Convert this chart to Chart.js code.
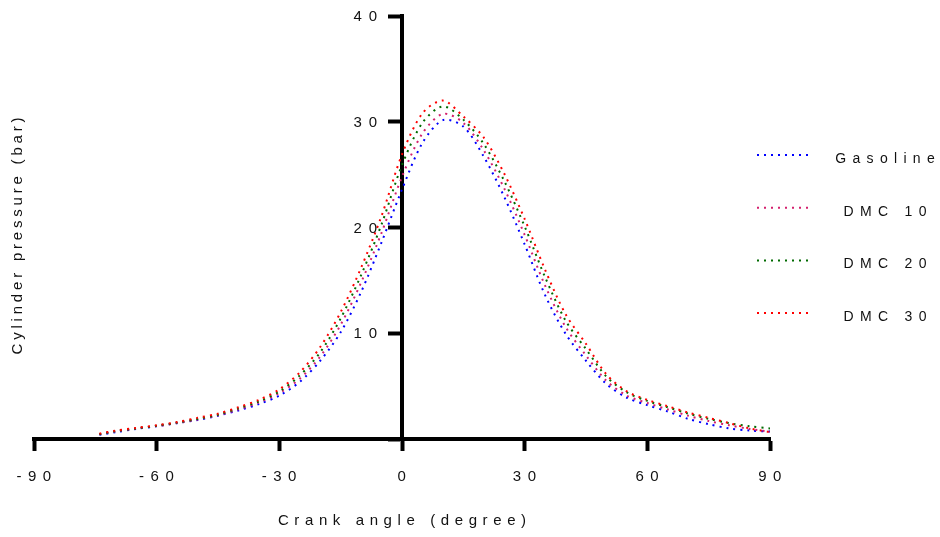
<!DOCTYPE html>
<html>
<head>
<meta charset="utf-8">
<script src="https://cdn.jsdelivr.net/npm/chart.js@4"></script>
<style>
  html, body { margin: 0; padding: 0; background: #fff; }
  #wrap { width: 940px; height: 537px; position: relative; }
</style>
</head>
<body>
<div id="wrap"><canvas id="c"></canvas></div>
<script>
// ---- data ----
const angles = [-74,-70,-65,-60,-55,-50,-45,-40,-35,-30,-25,-20,-15,-10,-5,0,5,10,15,20,25,30,35,40,45,50,55,60,65,70,75,80,85,90];
const gasoline = [0.4,0.65,0.95,1.2,1.5,1.8,2.2,2.7,3.3,4.1,5.4,7.4,10.1,13.9,18.6,23.6,28.0,30.15,29.55,26.7,22.9,18.4,13.6,9.95,7.4,5.2,3.9,3.2,2.6,1.9,1.4,1.0,0.8,0.7];
const dmc10 = [0.45,0.72,1.0,1.22,1.5,1.85,2.25,2.8,3.45,4.35,5.7,7.8,10.8,14.8,19.5,24.8,28.9,30.75,29.9,27.3,23.7,19.3,14.5,10.6,7.9,5.5,4.1,3.4,2.8,2.2,1.7,1.3,0.95,0.7];
const dmc20 = [0.45,0.75,1.0,1.25,1.55,1.9,2.3,2.9,3.55,4.5,6.0,8.2,11.4,15.5,20.3,25.9,29.9,31.45,30.2,27.9,24.4,20.1,15.3,11.2,8.5,5.9,4.4,3.6,3.0,2.4,1.9,1.5,1.2,1.0];
const dmc30 = [0.5,0.8,1.05,1.3,1.6,2.0,2.4,3.0,3.7,4.7,6.3,8.7,12.0,16.2,21.1,26.9,30.8,32.0,30.5,28.5,25.1,20.8,16.0,11.8,9.0,6.1,4.5,3.7,3.1,2.5,2.0,1.5,1.0,0.65];
const seriesNames = ['Gasoline','DMC 10','DMC 20','DMC 30'];
const seriesValues = [gasoline, dmc10, dmc20, dmc30];
const seriesColors = ['#0000ff','#d4206e','#006a00','#ff0000'];
const xTicks = [-90,-60,-30,0,30,60,90];
const yTicks = [10,20,30,40];
const xTitle = 'Crank angle (degree)';
const yTitle = 'Cylinder pressure (bar)';

const FONT = '"Liberation Sans", Arial, sans-serif';
const TEXT = '#111';

const datasets = seriesNames.map((name, i) => ({
  label: name,
  data: angles.map((a, k) => ({x: a, y: seriesValues[i][k]})),
  borderColor: seriesColors[i],
  backgroundColor: seriesColors[i],
  borderWidth: 2,
  borderDash: [2,5],
  borderCapStyle: 'butt',
  pointRadius: 0,
  tension: 0.3,
  fill: false
})).reverse();

function spacedText(ctx, txt, x, y, spacing, align) {
  ctx.letterSpacing = spacing + 'px';
  const w = ctx.measureText(txt).width - spacing;
  let sx = x;
  if (align === 'center') sx = x - w / 2;
  else if (align === 'right') sx = x - w;
  ctx.textAlign = 'left';
  ctx.fillText(txt, sx, y);
}

const decor = {
  id: 'decor',
  beforeUpdate(chart) { chart.ctx.letterSpacing = '6.5px'; },
  beforeDraw(chart) { chart.ctx.letterSpacing = '6.5px'; },
  afterDraw(chart) {
    const ctx = chart.ctx;
    const ys = chart.scales.y, xs = chart.scales.x;
    ctx.save();
    ctx.fillStyle = TEXT;
    ctx.textBaseline = 'middle';
    // y tick labels (left of the centred y axis)
    ctx.font = '15px ' + FONT;
    const axisX = xs.getPixelForValue(0);
    yTicks.forEach(v => {
      spacedText(ctx, String(v), axisX - 25, ys.getPixelForValue(v) + 1, 6.8, 'right');
    });
    // axis titles
    spacedText(ctx, xTitle, 402, 521, 5.6, 'center');
    ctx.save();
    ctx.translate(18, 236);
    ctx.rotate(-Math.PI / 2);
    spacedText(ctx, yTitle, 0, 0, 3.8, 'center');
    ctx.restore();
    // legend
    seriesNames.forEach((name, i) => {
      const ly = 155 + i * 52.7;
      ctx.save();
      ctx.strokeStyle = seriesColors[i];
      ctx.lineWidth = 2;
      ctx.lineCap = 'butt';
      ctx.setLineDash([2,5]);
      ctx.beginPath();
      ctx.moveTo(757, ly);
      ctx.lineTo(812, ly);
      ctx.stroke();
      ctx.restore();
      ctx.fillStyle = TEXT;
      ctx.font = '14px ' + FONT;
      ctx.textBaseline = 'middle';
      spacedText(ctx, name, 885, ly + 4, 6.3, 'center');
    });
    ctx.restore();
    ctx.letterSpacing = '6.5px';
  }
};

new Chart(document.getElementById('c'), {
  type: 'line',
  data: { datasets },
  plugins: [decor],
  options: {
    responsive: true,
    maintainAspectRatio: false,
    animation: false,
    layout: { padding: { top: 16, right: 170, bottom: 0, left: 34 } },
    plugins: { legend: { display: false }, tooltip: { enabled: false } },
    scales: {
      x: {
        type: 'linear',
        position: 'bottom',
        min: -90, max: 90,
        afterFit(s) { s.height = 98; s.paddingLeft = 0; s.paddingRight = 0; },
        afterBuildTicks(s) { s.ticks = xTicks.map(v => ({value: v})); },
        border: { display: true, color: '#000', width: 4 },
        grid: { display: true, drawOnChartArea: false, drawTicks: true, tickLength: 12, tickWidth: 4, tickColor: '#000', color: '#000' },
        ticks: { color: TEXT, font: { size: 15, family: FONT }, padding: 17, labelOffset: 3, maxRotation: 0, autoSkip: false, callback: v => String(v) },
        title: { display: false }
      },
      y: {
        type: 'linear',
        position: { x: 0 },
        min: 0, max: 40,
        afterBuildTicks(s) { s.ticks = [0].concat(yTicks).map(v => ({value: v})); },
        border: { display: true, color: '#000', width: 4 },
        grid: { display: true, drawOnChartArea: false, drawTicks: true, tickLength: 12, tickWidth: 4, tickColor: '#000', color: '#000' },
        ticks: { display: false },
        title: { display: false }
      }
    }
  }
});
</script>
</body>
</html>
